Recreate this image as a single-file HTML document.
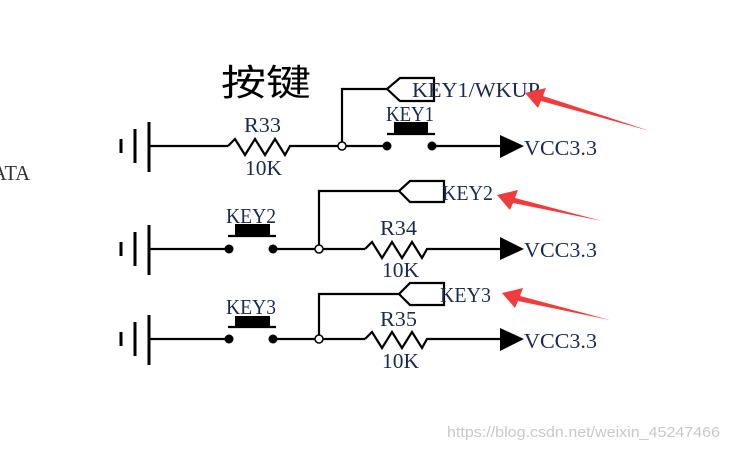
<!DOCTYPE html>
<html><head><meta charset="utf-8"><style>
html,body{margin:0;padding:0;background:#fff;width:729px;height:449px;overflow:hidden}
svg{display:block}
.t{font-family:"Liberation Serif",serif;font-size:21px;fill:#1a2a50}
</style></head><body>
<svg width="729" height="449" viewBox="0 0 729 449" xmlns="http://www.w3.org/2000/svg">
<defs>
<g id="gnd" stroke="#000" stroke-width="3" fill="none">
<line x1="121" y1="-7" x2="121" y2="7"/>
<line x1="135" y1="-17" x2="135" y2="17"/>
<line x1="149" y1="-24" x2="149" y2="26"/>
</g>
</defs>
<text x="-8" y="180" class="t" style="fill:#333" textLength="38" lengthAdjust="spacingAndGlyphs">ATA</text>
<text x="221" y="95" font-family="'Noto Sans CJK SC',sans-serif" font-size="36" fill="#000" textLength="90" lengthAdjust="spacingAndGlyphs">按键</text>
<g stroke="#000" stroke-width="2.2" fill="none">
<line x1="149" y1="146" x2="228" y2="146"/>
<polyline points="228,146 235,139 245,155 255,139 265,155 275,139 285,155 290,146 297,146"/>
<line x1="297" y1="146" x2="338" y2="146"/>
<line x1="346" y1="146" x2="387" y2="146"/>
<circle cx="342" cy="146" r="4" stroke-width="1.5"/>
<polyline points="342,142 342,89 387,89 400,78 434,78 434,101 400,101 387,89"/>
<line x1="432" y1="146" x2="500" y2="146"/>
<line x1="387" y1="134" x2="435" y2="134"/>
<line x1="149" y1="249" x2="229" y2="249"/>
<line x1="273" y1="249" x2="315" y2="249"/>
<circle cx="319" cy="249" r="4" stroke-width="1.5"/>
<line x1="323" y1="249" x2="365" y2="249"/>
<polyline points="365,249 372,242 382,258 392,242 402,258 412,242 422,258 427,249 433,249 500,249"/>
<polyline points="319,245 319,191 399,191 410,181 444,181 444,202 410,202 399,191"/>
<line x1="228" y1="236" x2="276" y2="236"/>
<line x1="149" y1="339" x2="229" y2="339"/>
<line x1="273" y1="339" x2="315" y2="339"/>
<circle cx="319" cy="339" r="4" stroke-width="1.5"/>
<line x1="323" y1="339" x2="365" y2="339"/>
<polyline points="365,339 372,332 382,348 392,332 402,348 412,332 422,348 427,339 433,339 500,339"/>
<polyline points="319,335 319,294 399,294 410,283 444,283 444,305 410,305 399,294"/>
<line x1="228" y1="327" x2="276" y2="327"/>
</g>
<use href="#gnd" transform="translate(0,146)"/>
<use href="#gnd" transform="translate(0,249)"/>
<use href="#gnd" transform="translate(0,339)"/>
<g fill="#000">
<rect x="394" y="122" width="34" height="11"/>
<circle cx="387" cy="146" r="4.5"/><circle cx="432" cy="146" r="4.5"/>
<rect x="235" y="224" width="35" height="11"/>
<circle cx="229" cy="249" r="4.5"/><circle cx="273" cy="249" r="4.5"/>
<rect x="235" y="316" width="35" height="11"/>
<circle cx="229" cy="339" r="4.5"/><circle cx="273" cy="339" r="4.5"/>
<polygon points="500,135 524,146 500,158"/>
<polygon points="500,237 524,249 500,260"/>
<polygon points="500,328 524,339 500,351"/>
</g>
<text x="244" y="132" class="t" textLength="37" lengthAdjust="spacingAndGlyphs">R33</text>
<text x="245" y="175" class="t" textLength="37" lengthAdjust="spacingAndGlyphs">10K</text>
<text x="386" y="121" class="t" textLength="48" lengthAdjust="spacingAndGlyphs">KEY1</text>
<text x="412" y="97" class="t" textLength="128" lengthAdjust="spacingAndGlyphs">KEY1/WKUP</text>
<text x="524" y="155" class="t" textLength="73" lengthAdjust="spacingAndGlyphs">VCC3.3</text>
<text x="226" y="223" class="t" textLength="50" lengthAdjust="spacingAndGlyphs">KEY2</text>
<text x="442" y="200" class="t" textLength="51" lengthAdjust="spacingAndGlyphs">KEY2</text>
<text x="380" y="235" class="t" textLength="37" lengthAdjust="spacingAndGlyphs">R34</text>
<text x="382" y="277" class="t" textLength="37" lengthAdjust="spacingAndGlyphs">10K</text>
<text x="524" y="257" class="t" textLength="73" lengthAdjust="spacingAndGlyphs">VCC3.3</text>
<text x="226" y="314" class="t" textLength="50" lengthAdjust="spacingAndGlyphs">KEY3</text>
<text x="440" y="302" class="t" textLength="51" lengthAdjust="spacingAndGlyphs">KEY3</text>
<text x="380" y="326" class="t" textLength="37" lengthAdjust="spacingAndGlyphs">R35</text>
<text x="382" y="368" class="t" textLength="37" lengthAdjust="spacingAndGlyphs">10K</text>
<text x="524" y="348" class="t" textLength="73" lengthAdjust="spacingAndGlyphs">VCC3.3</text>
<g fill="#f03c3c">
<polygon points="525,93 546,88 543,96 650,131 541,101 538,108"/>
<polygon points="497,195 518,190 515,198 602,221 513,203 510,210"/>
<polygon points="502,293 523,288 520,296 610,320 518,301 515,308"/>
</g>
<text x="447" y="437" font-family="'Liberation Sans',sans-serif" font-size="15" fill="#c8c8c8" textLength="273" lengthAdjust="spacingAndGlyphs">https://blog.csdn.net/weixin_45247466</text>
</svg>
</body></html>
